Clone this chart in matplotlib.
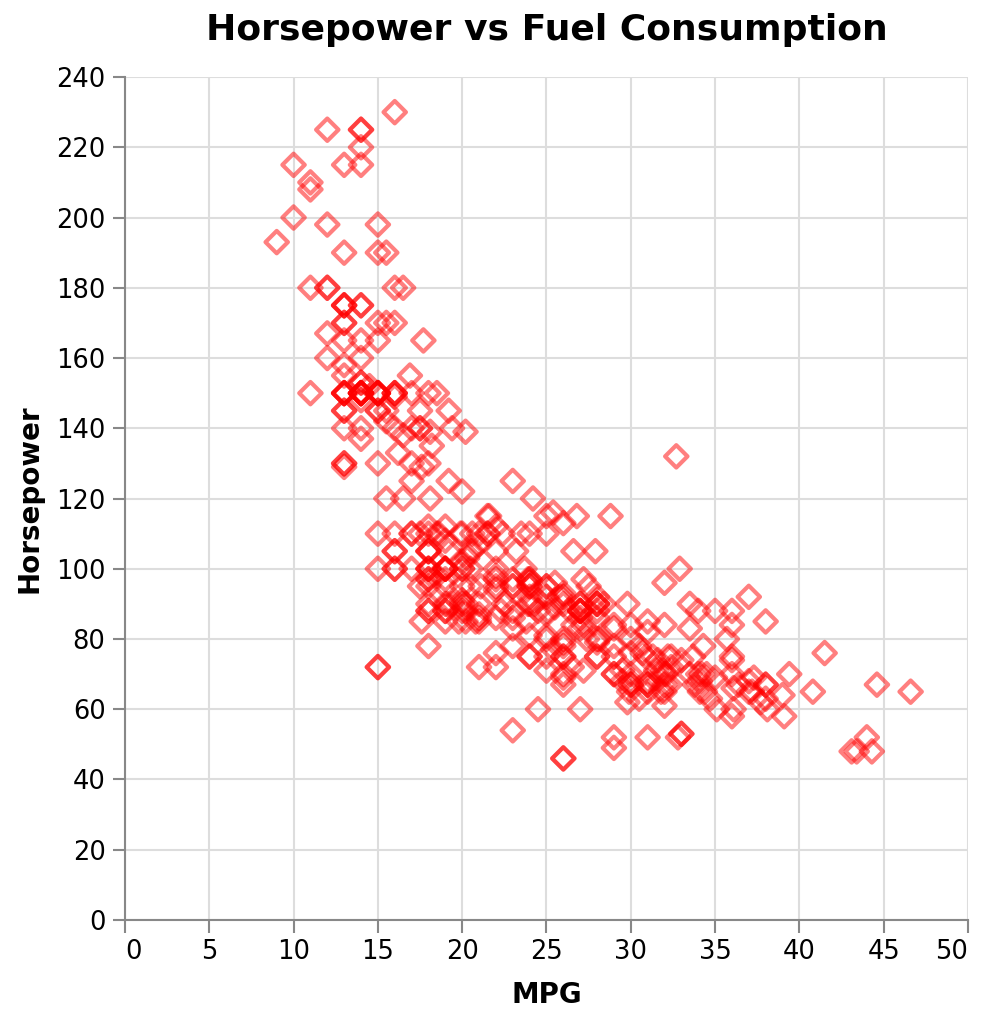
import matplotlib.pyplot as plt

# auto-mpg (cars) values: MPG and horsepower, rows with missing values left out
mpg = [
    18, 15, 18, 16, 17, 15, 14, 14, 14, 15, 15, 14, 15, 14, 24, 22, 18, 21, 27, 26,
    25, 24, 25, 26, 21, 10, 10, 11, 9, 27, 28, 25, 19, 16, 17, 19, 18, 14, 14, 14,
    14, 12, 13, 13, 18, 22, 19, 18, 23, 28, 30, 30, 31, 35, 27, 26, 24, 25, 23, 20,
    21, 13, 14, 15, 14, 17, 11, 13, 12, 13, 19, 15, 13, 13, 14, 18, 22, 21, 26, 22,
    28, 23, 28, 27, 13, 14, 13, 14, 15, 12, 13, 13, 14, 13, 12, 13, 18, 16, 18, 18,
    23, 26, 11, 12, 13, 12, 18, 20, 21, 22, 18, 19, 21, 26, 15, 16, 29, 24, 20, 19,
    15, 24, 20, 11, 20, 19, 15, 31, 26, 32, 25, 16, 16, 18, 16, 13, 14, 14, 14, 29,
    26, 26, 31, 32, 28, 24, 26, 24, 26, 31, 19, 18, 15, 15, 16, 15, 16, 14, 17, 16,
    15, 18, 21, 20, 13, 29, 23, 20, 23, 24, 25, 24, 18, 29, 19, 23, 23, 22, 25, 33,
    28, 25, 25, 26, 27, 17.5, 16, 15.5, 14.5, 22, 22, 24, 22.5, 29, 24.5, 29, 33, 20, 18,
    18.5, 17.5, 29.5, 32, 28, 26.5, 20, 13, 19, 19, 16.5, 16.5, 13, 13, 13, 31.5, 30, 36, 25.5, 33.5,
    17.5, 17, 15.5, 15, 17.5, 20.5, 19, 18.5, 16, 15.5, 15.5, 16, 29, 24.5, 26, 25.5, 30.5, 33.5, 30, 30.5,
    22, 21.5, 21.5, 43.1, 36.1, 32.8, 39.4, 36.1, 19.9, 19.4, 20.2, 19.2, 20.5, 20.2, 25.1, 20.5, 19.4, 20.6, 20.8, 18.6,
    18.1, 19.2, 17.7, 18.1, 17.5, 30, 27.5, 27.2, 30.9, 21.1, 23.2, 23.8, 23.9, 20.3, 17, 21.6, 16.2, 31.5, 29.5, 21.5,
    19.8, 22.3, 20.2, 20.6, 17, 17.6, 16.5, 18.2, 16.9, 15.5, 19.2, 18.5, 31.9, 34.1, 35.7, 27.4, 25.4, 23, 27.2, 23.9,
    34.2, 34.5, 31.8, 37.3, 28.4, 28.8, 26.8, 33.5, 41.5, 38.1, 32.1, 37.2, 28, 26.4, 24.3, 19.1, 34.3, 29.8, 31.3, 37,
    32.2, 46.6, 27.9, 40.8, 44.3, 43.4, 36.4, 30, 44.6, 33.8, 29.8, 32.7, 23.7, 35, 32.4, 27.2, 26.6, 25.8, 23.5, 30,
    39.1, 39, 35.1, 32.3, 37, 37.7, 34.1, 34.7, 34.4, 29.9, 33, 33.7, 32.4, 32.9, 31.6, 28.1, 30.7, 25.4, 24.2, 22.4,
    26.6, 20.2, 17.6, 28, 27, 34, 31, 29, 27, 24, 36, 37, 31, 38, 36, 36, 36, 34, 38, 32,
    38, 25, 38, 26, 22, 32, 36, 27, 27, 44, 32, 28, 31,
]
horsepower = [
    130, 165, 150, 150, 140, 198, 220, 215, 225, 190, 170, 160, 150, 225, 95, 95, 97, 85, 88, 46,
    87, 90, 95, 113, 90, 215, 200, 210, 193, 88, 90, 95, 100, 105, 100, 88, 100, 165, 175, 153,
    150, 180, 170, 175, 110, 72, 100, 88, 86, 90, 70, 76, 65, 69, 60, 70, 95, 80, 54, 90,
    86, 165, 175, 150, 153, 150, 208, 155, 160, 190, 97, 150, 130, 140, 150, 112, 76, 87, 69, 86,
    92, 97, 80, 88, 175, 150, 145, 137, 150, 198, 150, 158, 150, 215, 225, 175, 105, 100, 100, 88,
    95, 46, 150, 167, 170, 180, 100, 88, 72, 94, 90, 85, 107, 90, 145, 230, 49, 75, 91, 112,
    150, 110, 122, 180, 95, 100, 100, 67, 80, 65, 75, 100, 110, 105, 140, 150, 150, 140, 150, 83,
    67, 78, 52, 61, 75, 75, 75, 97, 93, 67, 95, 105, 72, 72, 170, 145, 150, 148, 110, 105,
    110, 95, 110, 110, 129, 75, 83, 100, 78, 96, 71, 97, 97, 70, 90, 95, 88, 98, 115, 53,
    86, 81, 92, 79, 83, 140, 150, 120, 152, 100, 105, 81, 90, 52, 60, 70, 53, 100, 78,
    110, 95, 71, 70, 75, 72, 102, 150, 88, 108, 120, 180, 145, 130, 150, 68, 80, 58, 96, 70,
    145, 110, 145, 130, 110, 105, 100, 98, 180, 170, 190, 149, 78, 88, 75, 89, 63, 83, 67, 78,
    97, 110, 110, 48, 66, 52, 70, 60, 110, 140, 139, 105, 95, 85, 88, 100, 90, 105, 85, 110,
    120, 145, 165, 139, 140, 68, 95, 97, 75, 95, 105, 85, 97, 103, 125, 115, 133, 71, 68, 115,
    85, 88, 90, 110, 130, 129, 138, 135, 155, 142, 125, 150, 71, 65, 80, 80, 77, 125, 71, 90,
    70, 70, 65, 69, 90, 115, 115, 90, 76, 60, 70, 65, 90, 88, 90, 90, 78, 90, 75, 92,
    75, 65, 105, 65, 48, 48, 67, 67, 67, 67, 62, 132, 100, 88, 72, 84, 84, 92, 110, 84,
    58, 64, 60, 67, 65, 62, 68, 63, 65, 65, 74, 75, 75, 100, 74, 80, 76, 116, 120, 110,
    105, 88, 85, 88, 88, 88, 85, 84, 90, 92, 74, 68, 68, 63, 70, 88, 75, 70, 67, 67,
    67, 110, 85, 92, 112, 96, 84, 90, 86, 52, 84, 79, 82,
]

x_ticks = list(range(0, 51, 5))
y_ticks = list(range(0, 241, 20))

fig = plt.figure(figsize=(9.84, 10.23), dpi=100)
ax = fig.add_axes([0.127, 0.1007, 0.8567, 0.824])

ax.scatter(mpg, horsepower, marker="D", s=130, facecolors="none",
           edgecolors="#ff0000", linewidths=3.0, alpha=0.5, zorder=3)

ax.set_xlim(0, 50)
ax.set_ylim(0, 240)
ax.set_xticks(x_ticks)
ax.set_yticks(y_ticks)
ax.grid(True, color="#dddddd", linewidth=1.5, zorder=0)
ax.set_axisbelow(True)

for side in ["top", "right"]:
    ax.spines[side].set_visible(False)
for side in ["left", "bottom"]:
    ax.spines[side].set_color("#888888")
    ax.spines[side].set_linewidth(1.5)
ax.tick_params(colors="#888888", labelcolor="black", length=9, width=1.5,
               labelsize=18.5, pad=5)

# first and last x labels flush with the axis ends
xl = ax.get_xticklabels()
xl[0].set_ha("left")
xl[-1].set_ha("right")

ax.set_xlabel("MPG", fontsize=20, fontweight="bold", labelpad=11)
ax.set_ylabel("Horsepower", fontsize=20, fontweight="bold", labelpad=9)
ax.set_title("Horsepower vs Fuel Consumption", fontsize=26, fontweight="bold", pad=27)

plt.savefig("out.png", dpi=100)
